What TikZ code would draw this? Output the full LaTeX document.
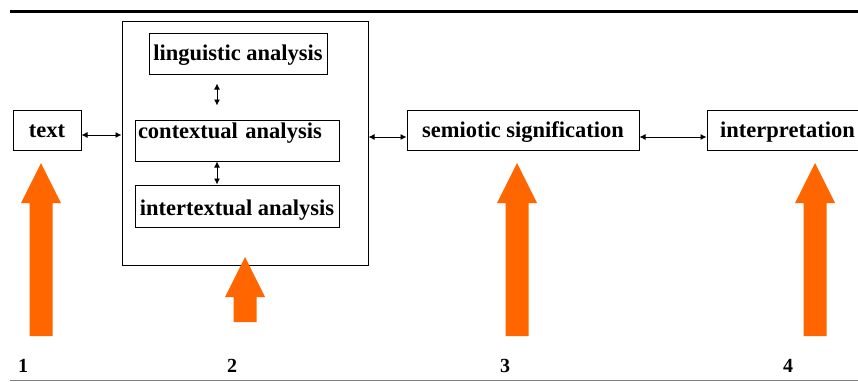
\documentclass[tikz,border=0pt]{standalone}
\usepackage{fontspec}
\setmainfont{Liberation Serif}
\usetikzlibrary{arrows.meta,positioning}
\definecolor{orangeA}{HTML}{FF6600}

\begin{document}
\begin{tikzpicture}[
  x=1pt,y=-1pt,
  font=\bfseries\fontsize{22.5}{24}\selectfont,
  box/.style={draw,line width=1pt,inner sep=0pt,minimum height=40pt,text height=17pt,text depth=3pt,align=center},
  arrow/.style={{Latex[length=6pt,width=6pt]}-{Latex[length=6pt,width=6pt]},line width=0.9pt},
  pointer/.style={fill=orangeA,draw=none},
  num/.style={font=\bfseries\fontsize{20}{22}\selectfont},
]
  \clip (0,0) rectangle (858,381);

  % rules
  \draw[line width=3pt] (10,11.5) -- (858,11.5);
  \draw[line width=1pt,gray] (10,380) -- (858,380);

  \node[box,minimum width=68pt] (text) at (47,130) {text};
  \node[box,minimum width=246pt,minimum height=244pt] (stage) at (245,143) {};
  \node[box,minimum width=178pt,minimum height=41pt] (ling) at (238,53.5) {linguistic analysis};
  \node[box,minimum width=204pt,minimum height=41pt,text height=16pt,text depth=21pt,inner xsep=3pt,inner ysep=2pt,text width=198pt,align=left] (context) at (237,140.5) {contextual analysis};
  \node[box,minimum width=204pt,minimum height=42pt,text height=18pt,text depth=0pt] (inter) at (237,206) {intertextual analysis};
  \node[box,minimum width=232pt] (semio) at (523,130) {semiotic signification};
  \node[box,minimum width=161pt] (interp) at (787.5,130) {interpretation};

  \draw[arrow] ([yshift=-5pt]text.east) -- ([yshift=-5pt]text.east -| stage.west);
  \draw[arrow] ([yshift=-7pt]semio.west -| stage.east) -- ([yshift=-7pt]semio.west);
  \draw[arrow] ([yshift=-7pt]semio.east) -- ([yshift=-7pt]interp.west);
  \draw[arrow,shorten <=9pt,shorten >=14pt] ([xshift=-21pt]ling.south) -- ([xshift=-21pt]ling.south |- context.north);
  \draw[arrow] ([xshift=-20pt]context.south) -- ([xshift=-20pt]context.south |- inter.north);

  % stage pointers
  \foreach \x/\t/\b in {41/163/336,245/257/322,517/163/336,815/163/336}
    \fill[pointer] (\x-11.5,\b) -- (\x-11.5,\t+40) -- (\x-20,\t+40) -- (\x,\t)
      -- (\x+20,\t+40) -- (\x+11.5,\t+40) -- (\x+11.5,\b) -- cycle;

  \node[num] (n1) at (23,366) {1};
  \node[num] (n2) at (232,366) {2};
  \node[num] (n3) at (505,366) {3};
  \node[num] (n4) at (788,366) {4};
\end{tikzpicture}
\end{document}
